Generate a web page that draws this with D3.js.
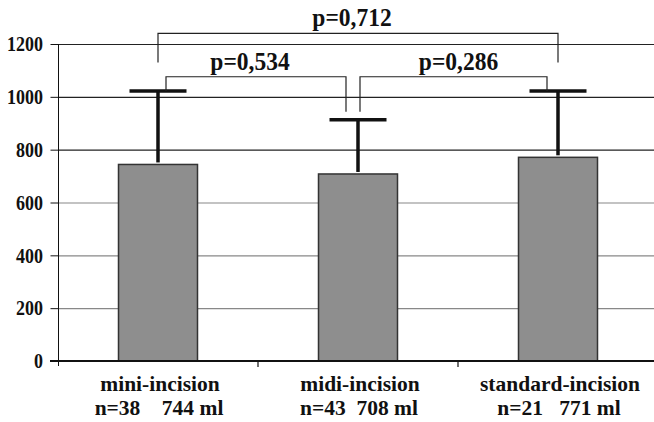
<!DOCTYPE html>
<html>
<head>
<meta charset="utf-8">
<script src="https://cdn.jsdelivr.net/npm/d3@7"></script>
<style>
  body { margin: 0; background: #fff; }
  svg { display: block; }
  svg text { font-family: "Times New Roman", "Liberation Serif", Tinos, "DejaVu Serif", serif !important; font-weight: bold; fill: #111; }
</style>
</head>
<body>
<svg id="chart" width="654" height="422"></svg>
<script>
// data
var categories = ["mini-incision", "midi-incision", "standard-incision"];
var sampleSizes = ["n=38    744 ml", "n=43  708 ml", "n=21   771 ml"];
var means = [744, 708, 771];
var sds = [278, 205, 251];
var yTicks = [0, 200, 400, 600, 800, 1000, 1200];

// significance brackets
var pairs = [[0, 1], [1, 2], [0, 2]];
var pLabels = ["p=0,534", "p=0,286", "p=0,712"];
var bracketLevels = [1076, 1076, 1240];
var legEnds = [[1022, 944], [944, 1022], [1130, 1130]];

var width = 654, height = 422;
var svg = d3.select("#chart");

var x = d3.scaleBand()
  .domain(categories)
  .range([58, 658])
  .paddingInner(0.605)
  .paddingOuter(0.3025);

var y = d3.scaleLinear()
  .domain([0, 1200])
  .range([361, 44]);

var step = x.step();

//gridlines
svg.append("g")
  .selectAll("line")
  .data(yTicks.filter(function (d) { return d > 0 }))
  .enter()
  .append("line")
  .attr("x1", 58)
  .attr("x2", width)
  .attr("y1", function (d) { return y(d) + 0.5 })
  .attr("y2", function (d) { return y(d) + 0.5 })
  .attr("stroke", function (d) { return d >= 800 ? "#222" : "#888" })
  .attr("stroke-width", 1.2);

//y axis
var yAxis = svg.append("g")
  .attr("transform", "translate(58.5,0)")
  .call(d3.axisLeft(y).tickValues(yTicks).tickFormat(d3.format("d")).tickSize(8).tickPadding(7));
yAxis.attr("font-family", null);
yAxis.select(".domain").attr("stroke", "#111").attr("d", "M0," + y(1200) + "V" + (y(0) + 5));
yAxis.selectAll(".tick line").attr("stroke", "#111");
yAxis.selectAll(".tick text")
  .attr("x", null)
  .attr("dy", null)
  .attr("transform", "translate(-15.5,6.8) scale(1,1.12)")
  .style("font-size", "18px")
  .attr("fill", "#111");

//bars
svg.append("g")
  .selectAll("rect")
  .data(means)
  .enter()
  .append("rect")
  .attr("x", function (d, i) { return x(categories[i]) })
  .attr("y", function (d) { return y(d) })
  .attr("width", x.bandwidth())
  .attr("height", function (d) { return y(0) - y(d) })
  .attr("fill", "#8e8e8e")
  .attr("stroke", "#333")
  .attr("stroke-width", 1.5);

//baseline and category ticks
svg.append("line")
  .attr("x1", 50).attr("x2", width)
  .attr("y1", y(0)).attr("y2", y(0))
  .attr("stroke", "#111").attr("stroke-width", 2.2);

svg.append("g")
  .selectAll("line")
  .data(categories.slice(1))
  .enter()
  .append("line")
  .attr("x1", function (d) { return x(d) - step * x.paddingInner() / 2 })
  .attr("x2", function (d) { return x(d) - step * x.paddingInner() / 2 })
  .attr("y1", y(0)).attr("y2", y(0) + 6)
  .attr("stroke", "#111").attr("stroke-width", 1.2);

function cx(i) { return x(categories[i]) + x.bandwidth() / 2 }

//error bars
var eb = svg.append("g");
means.forEach(function (m, i) {
  eb.append("line")
    .attr("x1", cx(i)).attr("x2", cx(i))
    .attr("y1", y(m) - 2).attr("y2", y(m + sds[i]))
    .attr("stroke", "#111").attr("stroke-width", 3.5);
  eb.append("line")
    .attr("x1", cx(i) - 28.5).attr("x2", cx(i) + 28.5)
    .attr("y1", y(m + sds[i])).attr("y2", y(m + sds[i]))
    .attr("stroke", "#111").attr("stroke-width", 3.5);
});

//brackets
var legShift = [[8, -12], [2, -11], [0, 0]];
var br = svg.append("g");
pairs.forEach(function (p, k) {
  var x1 = cx(p[0]) + legShift[k][0];
  var x2 = cx(p[1]) + legShift[k][1];
  var top = y(bracketLevels[k]);
  br.append("path")
    .attr("d", "M" + x1 + "," + y(legEnds[k][0]) + "V" + top + "H" + x2 + "V" + y(legEnds[k][1]))
    .attr("fill", "none")
    .attr("stroke", "#222")
    .attr("stroke-width", 1.2);
  br.append("text")
    .attr("transform", "translate(" + ((x1 + x2) / 2 + (k == 1 ? 5 : -6)) + "," + (top - 7) + ") scale(1,1.04)")
    .attr("text-anchor", "middle")
    .style("font-size", "23.5px")
    .text(pLabels[k]);
});

//category labels
var lab = svg.append("g");
categories.forEach(function (c, i) {
  lab.append("text")
    .attr("x", cx(i) + 2)
    .attr("y", 391)
    .attr("text-anchor", "middle")
    .style("font-size", "21.5px")
    .text(c);
  lab.append("text")
    .attr("x", cx(i) + 1)
    .attr("y", 415)
    .attr("text-anchor", "middle")
    .style("font-size", "21.5px")
    .style("white-space", "pre")
    .text(sampleSizes[i]);
});
</script>
</body>
</html>
